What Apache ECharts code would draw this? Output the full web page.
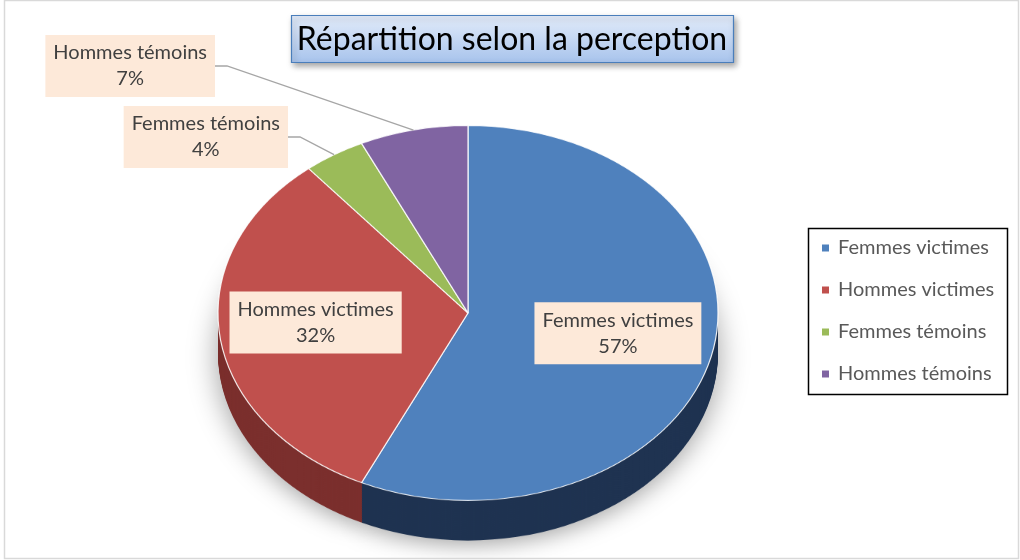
<!DOCTYPE html>
<html>
<head>
<meta charset="utf-8">
<script src="https://cdn.jsdelivr.net/npm/echarts@6/dist/echarts.min.js"></script>
<style>
  html, body { margin: 0; padding: 0; background: #ffffff; }
  #wrap { position: relative; width: 1020px; height: 560px; overflow: hidden; background: #fff; }
  #pie { position: absolute; left: 0; top: 0; width: 1020px; height: 747px; transform: scaleY(0.75); transform-origin: 0 0; }
  #main { position: absolute; left: 0; top: 0; width: 1020px; height: 560px; }
</style>
</head>
<body>
<div id="wrap">
  <div id="pie"></div>
  <div id="main"></div>
</div>
<script>
// ---- data ----
const titleText = 'Répartition selon la perception';
const categories = ['Femmes victimes', 'Hommes victimes', 'Femmes témoins', 'Hommes témoins'];
const values = [57, 32, 4, 7];

// ---- style / layout ----
const colors = ['#4F81BD', '#C0504D', '#9BBB59', '#8064A2'];
const sideColors = ['#1F3351', '#7B2F2D', '#5E7A34', '#4E3C67'];
const FONT = 'Lato';
const K = 0.75;            // vertical squash of the tilted pie
const CX = 468, CY = 313, R = 250, DEPTH = 40;
const INSIDE_SPREAD = 1.2;
const INSIDE_SHIFT_Y = -5;
const ELBOW = { 2: [300, 137], 3: [227, 66] };
const LEG2 = 12;

function pieData(colorList) {
  return categories.map((n, i) => ({ name: n, value: values[i], itemStyle: { color: colorList[i] } }));
}

// ---- chart A: the tilted pie body (squashed by CSS) ----
const pieChart = echarts.init(document.getElementById('pie'), null, { renderer: 'canvas' });
const cyPre = CY / K;
const depthPre = DEPTH / K;
const bodySeries = [];
let first = true;
for (let d = depthPre; d >= 0.5; d -= 1.5) {
  bodySeries.push({
    type: 'pie', center: [CX, cyPre + d], radius: R, startAngle: 90,
    silent: true, animation: false, label: { show: false }, labelLine: { show: false },
    itemStyle: first ? { shadowBlur: 30, shadowColor: 'rgba(0,0,0,0.38)', shadowOffsetY: 5 } : {},
    data: pieData(sideColors)
  });
  first = false;
}
bodySeries.push({
  type: 'pie', center: [CX, cyPre], radius: R, startAngle: 90,
  silent: true, animation: false, label: { show: false }, labelLine: { show: false },
  itemStyle: { borderColor: 'rgba(255,255,255,0.9)', borderWidth: 1.2 },
  data: pieData(colors)
});
pieChart.setOption({ animation: false, series: bodySeries });

// ---- chart B: title, legend, labels ----
const chart = echarts.init(document.getElementById('main'), null, { renderer: 'canvas' });
chart.setOption({
  backgroundColor: 'transparent',
  animation: false,
  graphic: [
    { type: 'rect', z: -10, shape: { x: 4.5, y: 0.5, width: 1014, height: 558 },
      style: { fill: null, stroke: '#D9D9D9', lineWidth: 1.5 } },
    { type: 'rect', z: 0, shape: { x: 291.5, y: 15.5, width: 442, height: 47 },
      style: {
        fill: { type: 'linear', x: 0, y: 0, x2: 0, y2: 1,
          colorStops: [{ offset: 0, color: '#E3ECFA' }, { offset: 1, color: '#A7C3EC' }] },
        stroke: '#4A7EBB', lineWidth: 1.2,
        shadowBlur: 6, shadowOffsetX: 2, shadowOffsetY: 3, shadowColor: 'rgba(0,0,0,0.35)'
      } },
    { type: 'rect', z: 0, shape: { x: 808.5, y: 228.5, width: 199, height: 166 },
      style: { fill: '#fff', stroke: '#000', lineWidth: 1.5 } }
  ],
  title: {
    text: titleText, left: 512, top: 23, textAlign: 'center', padding: 0,
    textStyle: { fontFamily: FONT, fontSize: 32, fontWeight: 'normal', color: '#000', lineHeight: 34 }
  },
  legend: {
    orient: 'vertical', left: 822, top: 238, padding: 0,
    itemWidth: 7, itemHeight: 7, itemGap: 22, icon: 'rect', selectedMode: false,
    textStyle: { fontFamily: FONT, fontSize: 20, color: '#595959', lineHeight: 20, padding: [0, 0, 0, 4] },
    data: categories.map((n, i) => ({ name: n, itemStyle: { color: colors[i] } }))
  },
  series: [{
    type: 'pie', center: [CX, CY], radius: R, startAngle: 90,
    silent: true, animation: false, avoidLabelOverlap: false, percentPrecision: 0,
    itemStyle: { color: 'rgba(0,0,0,0)', borderWidth: 0 },
    label: {
      formatter: '{b}\n{d}%', fontFamily: FONT, fontSize: 20, lineHeight: 26,
      color: '#404040', backgroundColor: '#FDE9D9', padding: [5, 8]
    },
    labelLine: { length: 10, length2: 10, lineStyle: { color: '#A6A6A6', width: 1.3 } },
    data: categories.map((n, i) => ({
      name: n, value: values[i],
      label: { position: i < 2 ? 'inside' : 'outside' },
      labelLine: { show: i >= 2 }
    })),
    labelLayout: function (p) {
      const i = p.dataIndex;
      const r = p.labelRect;
      if (i < 2) {
        const lx = r.x + r.width / 2, ly = r.y + r.height / 2;
        return {
          x: CX + (lx - CX) * INSIDE_SPREAD,
          y: CY + (ly - CY) * INSIDE_SPREAD * K + INSIDE_SHIFT_Y,
          align: 'center', verticalAlign: 'middle'
        };
      }
      const e = p.labelLinePoints[0];
      const edge = [e[0], CY + (e[1] - CY) * K];
      const el = ELBOW[i];
      const end = [el[0] - LEG2, el[1]];
      return {
        x: end[0] - r.width / 2, y: end[1], align: 'center', verticalAlign: 'middle',
        labelLinePoints: [edge, el, end]
      };
    }
  }]
});
</script>
</body>
</html>
